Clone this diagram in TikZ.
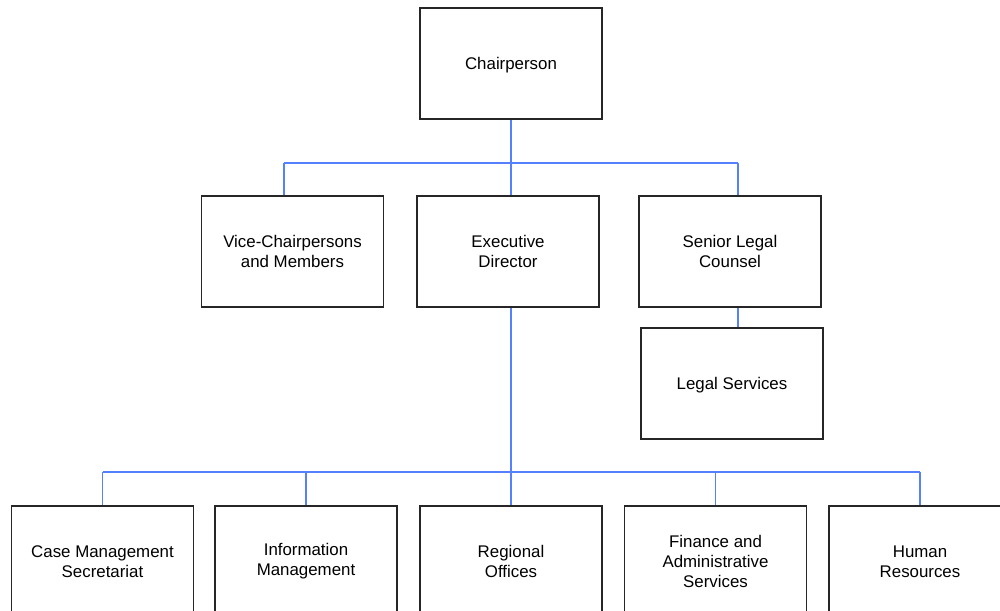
\documentclass[tikz,border=0pt]{standalone}
\usepackage{fontspec}
\setmainfont{Liberation Sans}
\usepackage{tikz}
\usetikzlibrary{calc}
\definecolor{linkblue}{RGB}{85,128,255}
\tikzset{
	unitbox/.style={draw=black!85, line width=0.65pt, fill=white, align=center,
		minimum width=3.64cm, minimum height=2.22cm, inner sep=0pt,
		font=\fontsize{9.6}{11.4}\selectfont},
	link/.style={draw=linkblue, line width=0.6pt}
}

\begin{document}
\begin{tikzpicture}[x=0.02cm, y=-0.02cm]
			%%%%% START %%%%%
			\useasboundingbox (0, 0) rectangle (1000, 610);
			\clip (0, 0) rectangle (1000, 610);
			
			\node[unitbox, text depth=0pt] (chair) at (511, 63.5) {Chairperson};
			
			\node[unitbox] (vice) at (292.5, 251.5) {Vice-Chairpersons\\and Members};
			\node[unitbox] (exec) at (508, 251.5) {Executive\\Director};
			\node[unitbox] (counsel) at (730, 251.5) {Senior Legal\\Counsel};
			\node[unitbox, text depth=0pt] (legal) at (732, 383.5) {Legal Services};
			
			\node[unitbox] (casemgmt) at (102.5, 561.5) {Case Management\\Secretariat};
			\node[unitbox] (infomgmt) at (306, 561.5) {Information\\Management};
			\node[unitbox] (regional) at (511, 561.5) {Regional\\Offices};
			\node[unitbox] (finance) at (715.5, 561.5) {Finance and\\Administrative\\Services};
			\node[unitbox] (hr) at (920, 561.5) {Human\\Resources};
			
			\coordinate (topbus) at (511, 163);
			\coordinate (vicedrop) at (284, 163);
			\coordinate (counseldrop) at (738, 163);
			\coordinate (lowbus) at (511, 472);
			
			% top level
			\draw[link] (chair.south) -- (chair.south |- exec.north);
			\draw[link] (vicedrop) -- (counseldrop);
			\draw[link] (vicedrop) -- (vicedrop |- vice.north);
			\draw[link] (counseldrop) -- (counseldrop |- counsel.north);
			\draw[link] (counseldrop |- counsel.south) -- (counseldrop |- legal.north);
			
			% directorates
			\draw[link] (regional.north |- exec.south) -- (regional.north);
			\draw[link] (casemgmt.north |- lowbus) -- (hr.north |- lowbus);
			\foreach \unit in {casemgmt, infomgmt, finance, hr}
				\draw[link] (\unit.north |- lowbus) -- (\unit.north);
			
			%%%%% END %%%%%
\end{tikzpicture}
\end{document}
